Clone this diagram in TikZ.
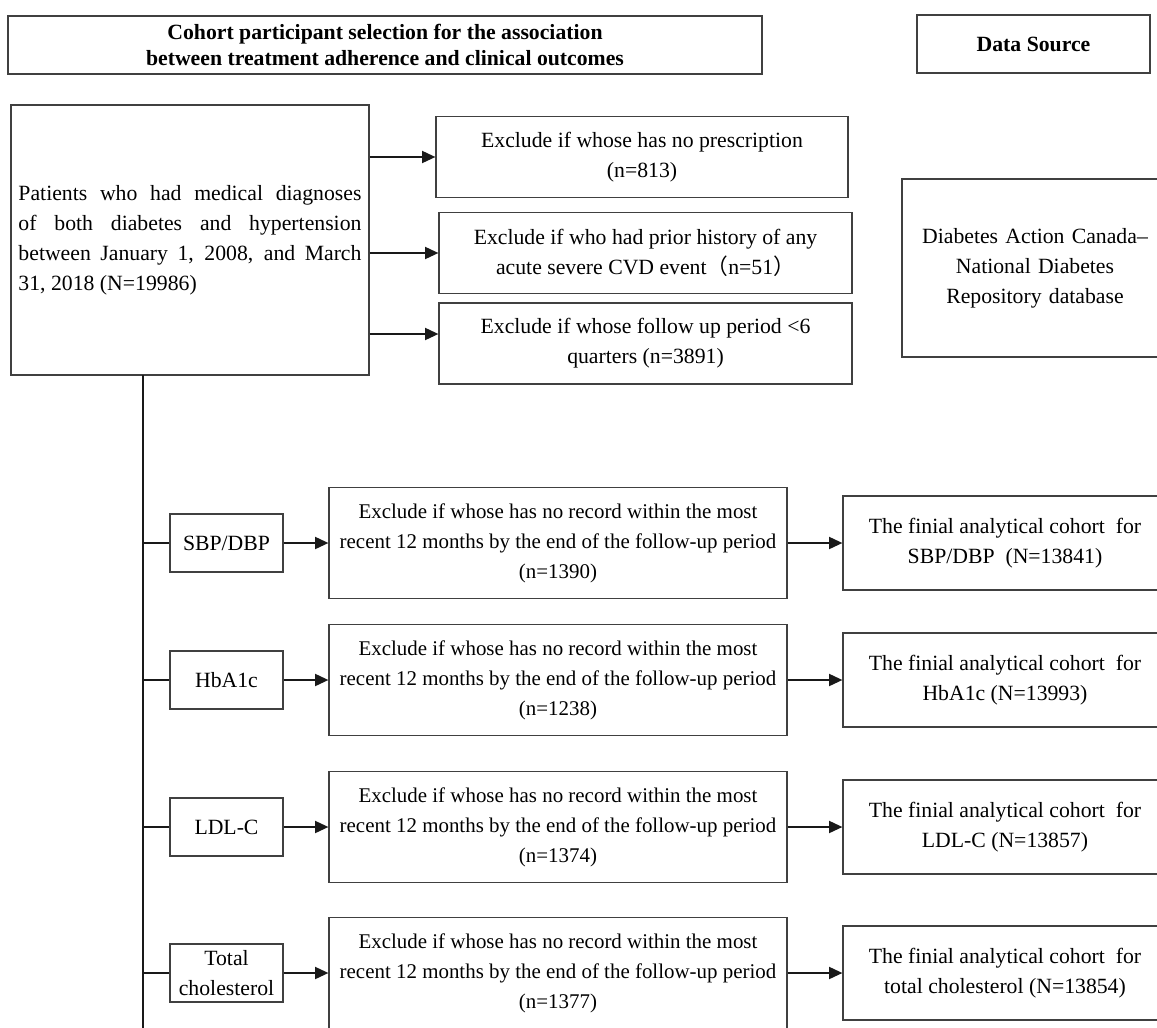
\documentclass[tikz,border=0pt]{standalone}
\usepackage{fontspec}
\setmainfont{Liberation Serif}
\newfontfamily\cjk{Noto Sans CJK SC}
\usetikzlibrary{arrows.meta}
\newdimen\pxu \pxu=0.75pt

\begin{document}
\begin{tikzpicture}[x=0.75pt, y=-0.75pt,
  every box/.style={draw=black!75, line width=0.9pt, inner sep=0pt, align=center,
    font=\fontsize{16.3}{22.5}\selectfont},
  head/.style={every box, font=\bfseries\fontsize{16.3}{19.5}\selectfont},
  link/.style={line width=1.4pt, draw=black!90},
  feed/.style={link, -{Triangle[length=10pt,width=9pt]}}]

\useasboundingbox (0,0) rectangle (1157,1028);
\fill [white] (0,0) rectangle (1157,1028);
\clip (0,0) rectangle (1157,1028);

% headings
\node [head, minimum width=754\pxu, minimum height=58\pxu] (title) at (385,45)
  {Cohort participant selection for the association\\between treatment adherence and clinical outcomes};
\node [head, minimum width=233\pxu, minimum height=58\pxu] (source) at (1033.5,44) {Data Source};

% study population
\node [every box, align=justify, text width=343\pxu, minimum width=358\pxu, minimum height=270\pxu] (patients) at (190,240)
  {Patients who had medical diagnoses\linebreak of both diabetes and hypertension\linebreak between January 1, 2008, and March\linebreak 31, 2018 (N=19986)};
\node [every box, text width=266\pxu, minimum height=178\pxu] (database) at (1035,268)
  {Diabetes Action Canada–\\National Diabetes\\Repository database};

% first exclusions
\node [every box, minimum width=412\pxu, minimum height=81\pxu] (drop-1) at (642,157)
  {Exclude if whose has no prescription\\(n=813)};
\node [every box, minimum width=413\pxu, minimum height=81\pxu] (drop-2) at (645.5,253)
  {Exclude if who had prior history of any\\acute severe CVD event{\cjk （}n=51{\cjk ）}};
\node [every box, minimum width=413\pxu, minimum height=81\pxu] (drop-3) at (645.5,343.5)
  {Exclude if whose follow up period <6\\quarters (n=3891)};
\coordinate (drop-3 in) at ([yshift=9.5\pxu]drop-3.west);

\draw [feed] (patients.east |- drop-1.west) -- (drop-1.west);
\draw [feed] (patients.east |- drop-2.west) -- (drop-2.west);
\draw [feed] (patients.east |- drop-3 in) -- (drop-3 in);

% outcome branches
\coordinate (trunk) at (143,375);
\coordinate (trunk end) at (143,1040);
\draw [link] (trunk) -- (trunk end);

\foreach \m/\lab/\n/\fin/\y in {
    sbp/{SBP/DBP}/1390/{SBP/DBP\ \ (N=13841)}/543,
    hba/HbA1c/1238/{HbA1c (N=13993)}/680,
    ldl/LDL-C/1374/{LDL-C (N=13857)}/827,
    tc/{Total\\cholesterol}/1377/{total cholesterol (N=13854)}/973}
{
  \node [every box, minimum width=113\pxu, minimum height=58\pxu] (label-\m) at (226.5,\y) {\lab};
  \node [every box, font=\fontsize{15.7}{22.5}\selectfont, minimum width=458\pxu, minimum height=111\pxu] (excl-\m) at (558,\y)
    {Exclude if whose has no record within the most\\recent 12 months by the end of the follow-up period\\(n=\n)};
  \node [every box, minimum width=324\pxu, minimum height=94\pxu] (final-\m) at (1005,\y)
    {The finial analytical cohort\ \ for\\\fin};
  \draw [link] (label-\m.west -| trunk) -- (label-\m.west);
  \draw [feed] (label-\m) -- (excl-\m);
  \draw [feed] (excl-\m) -- (final-\m);
}

\end{tikzpicture}
\end{document}
